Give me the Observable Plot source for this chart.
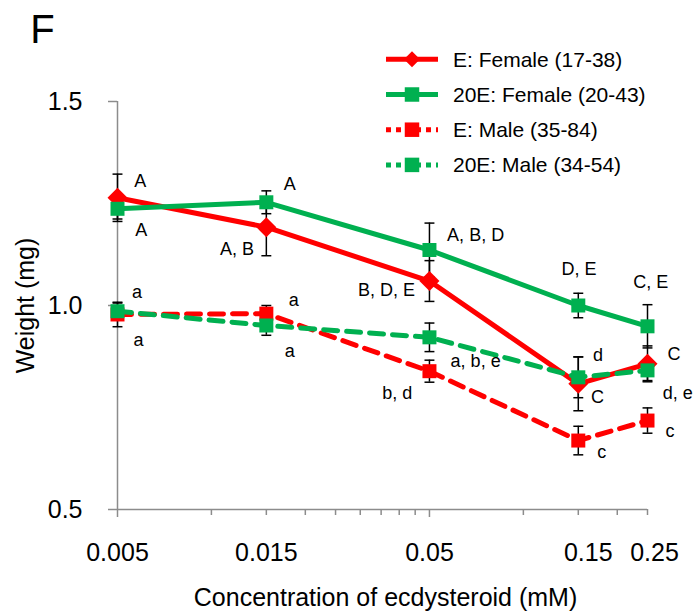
<!DOCTYPE html>
<html><head><meta charset="utf-8">
<script src="https://cdn.jsdelivr.net/npm/d3@7"></script>
<script src="https://cdn.jsdelivr.net/npm/@observablehq/plot@0.6"></script>
<style>body{margin:0;background:#fff}</style>
</head><body><div id="chart"></div>
<script>
// ---- data ----
const concentrations = [0.005, 0.015, 0.05, 0.15, 0.25];
const seriesNames = ["E: Female (17-38)", "20E: Female (20-43)", "E: Male (35-84)", "20E: Male (34-54)"];
const eFemale      = [1.264, 1.192, 1.060, 0.808, 0.857];
const eFemaleErr   = [0.058, 0.070, 0.050, 0.066, 0.044];
const e20Female    = [1.237, 1.253, 1.136, 1.000, 0.949];
const e20FemaleErr = [0.025, 0.028, 0.066, 0.030, 0.053];
const eMale        = [0.978, 0.980, 0.839, 0.669, 0.718];
const eMaleErr     = [0.030, 0.020, 0.027, 0.035, 0.031];
const e20Male      = [0.986, 0.951, 0.922, 0.824, 0.841];
const e20MaleErr   = [0.020, 0.024, 0.035, 0.050, 0.025];

const yTicks = [0.5, 1.0, 1.5];
const xMajorTicks = [0.005, 0.05];
const xMinorTicks = [0.01, 0.015, 0.02, 0.025, 0.03, 0.035, 0.04, 0.045, 0.1, 0.15, 0.2, 0.25];
const xTickLabels = [0.005, 0.015, 0.05, 0.15, 0.25];

// significance letters (text, concentration, weight)
const letterText = ["A", "A", "a", "a", "A", "A, B", "a", "a", "A, B, D", "B, D, E", "a, b, e", "b, d", "D, E", "C, E", "d", "C", "C", "d, e", "c", "c"];
const letterX    = [0.00591, 0.00596, 0.00577, 0.00584, 0.01782, 0.01208, 0.01836, 0.01782, 0.0703, 0.0364, 0.0703, 0.0394, 0.1508, 0.2562, 0.1736, 0.3042, 0.1728, 0.3127, 0.1784, 0.2954];
const letterY    = [1.304, 1.184, 1.033, 0.914, 1.296, 1.139, 1.012, 0.888, 1.173, 1.037, 0.864, 0.785, 1.090, 1.057, 0.878, 0.880, 0.776, 0.785, 0.641, 0.692];

const xTitle = "Concentration of ecdysteroid (mM)";
const yTitle = "Weight (mg)";
const panelLetter = "F";

// ---- styles ----
const RED = "#FF0000", GREEN = "#00B050", GRAY = "#8c8c8c";
const FONT = "'Liberation Sans', Arial, sans-serif";
const series = [
  {name: seriesNames[0], values: eFemale,   errs: eFemaleErr,   color: RED,   symbol: "diamond2", r: 9,   dashed: false},
  {name: seriesNames[1], values: e20Female, errs: e20FemaleErr, color: GREEN, symbol: "square",   r: 7.9, dashed: false},
  {name: seriesNames[2], values: eMale,     errs: eMaleErr,     color: RED,   symbol: "square",   r: 7.9, dashed: true},
  {name: seriesNames[3], values: e20Male,   errs: e20MaleErr,   color: GREEN, symbol: "square",   r: 7.9, dashed: true}
];
const rows = series.flatMap((s, i) => concentrations.map((c, j) => ({k: i, x: c, y: s.values[j], err: s.errs[j]})));
const letters = letterText.map((t, i) => ({t, x: letterX[i], y: letterY[i]}));
const capSymbol = {draw(ctx, size) { const w = Math.sqrt(size); ctx.moveTo(-w / 2, 0); ctx.lineTo(w / 2, 0); }};

const marks = [
  Plot.ruleY([0.5], {x1: 0.005, x2: 0.25, stroke: GRAY, strokeWidth: 1.5}),
  Plot.ruleX([0.005], {y1: 0.5, y2: 1.5, stroke: GRAY, strokeWidth: 1.5}),
  Plot.axisY({ticks: yTicks, tickFormat: d3.format(".1f"), tickSize: 9, tickPadding: 26, stroke: GRAY, strokeWidth: 1.5, fill: "black", fontSize: 25, label: null}),
  Plot.axisX({ticks: xMajorTicks, tickFormat: () => "", tickSize: 8, stroke: GRAY, strokeWidth: 1.5, label: null}),
  Plot.axisX({ticks: xMinorTicks, tickFormat: () => "", tickSize: 6, stroke: GRAY, strokeWidth: 1.5, label: null}),
  Plot.text(xTickLabels.filter(d => d < 0.1), {x: d => d, text: d => String(d), frameAnchor: "bottom", dy: 43, lineAnchor: "middle", textAnchor: "middle", fontSize: 25, fill: "black"}),
  Plot.text(xTickLabels.filter(d => d === 0.15), {x: d => d, text: d => String(d), frameAnchor: "bottom", dy: 43, dx: 10, lineAnchor: "middle", textAnchor: "middle", fontSize: 25, fill: "black"}),
  Plot.text(xTickLabels.filter(d => d === 0.25), {x: d => d, text: d => String(d), frameAnchor: "bottom", dy: 43, dx: 7, lineAnchor: "middle", textAnchor: "middle", fontSize: 25, fill: "black"}),
  // error bars
  Plot.ruleX(rows, {x: "x", y1: d => d.y - d.err, y2: d => d.y + d.err, stroke: "black", strokeWidth: 1.5}),
  Plot.dot(rows, {x: "x", y: d => d.y + d.err, symbol: capSymbol, r: 5.6, stroke: "black", strokeWidth: 1.5, fill: "none"}),
  Plot.dot(rows, {x: "x", y: d => d.y - d.err, symbol: capSymbol, r: 5.6, stroke: "black", strokeWidth: 1.5, fill: "none"}),
];
series.forEach((s, i) => {
  const data = rows.filter(d => d.k === i);
  marks.push(Plot.line(data, {x: "x", y: "y", stroke: s.color, strokeWidth: 5, strokeDasharray: s.dashed ? "14,9" : null, strokeLinecap: s.dashed ? "round" : "butt"}));
  marks.push(Plot.dot(data, {x: "x", y: "y", symbol: s.symbol, r: s.r, fill: s.color, stroke: "none"}));
});
marks.push(
  Plot.text(letters, {x: "x", y: "y", text: "t", fontSize: 18, fill: "black", textAnchor: "middle", lineAnchor: "middle"}),
  Plot.text([yTitle], {frameAnchor: "left", dx: -92, rotate: -90, fontSize: 25, fill: "black", textAnchor: "middle", lineAnchor: "middle"}),
  Plot.text([xTitle], {frameAnchor: "bottom", dx: 3, dy: 88, fontSize: 25, fill: "black", textAnchor: "middle", lineAnchor: "middle"}),
  Plot.text([panelLetter], {frameAnchor: "top-left", dx: -75, dy: -71, fontSize: 40, fill: "black", textAnchor: "middle", lineAnchor: "middle"})
);

const chart = Plot.plot({
  width: 693, height: 613,
  marginLeft: 117, marginRight: 46, marginTop: 101, marginBottom: 104,
  style: {fontFamily: FONT, background: "white", overflow: "visible"},
  x: {type: "log", domain: [0.005, 0.25]},
  y: {domain: [0.5, 1.5]},
  marks
});

// legend inside the plot area (top right)
const svg = d3.select(chart);
const lg = svg.append("g").attr("font-family", FONT).attr("text-anchor", "start");
series.forEach((s, i) => {
  const cy = 59.3 + i * 35.2;
  lg.append("line").attr("x1", 386).attr("x2", 438).attr("y1", cy).attr("y2", cy)
    .attr("stroke", s.color).attr("stroke-width", 5)
    .attr("stroke-dasharray", s.dashed ? "5,5" : null);
  const sym = s.symbol === "diamond2" ? d3.symbolDiamond2 : d3.symbolSquare;
  const size = s.symbol === "diamond2" ? 165 : 210;
  lg.append("path").attr("d", d3.symbol(sym, size)()).attr("transform", `translate(412,${cy})`).attr("fill", s.color);
  lg.append("text").attr("x", 453).attr("y", cy).attr("dy", "0.35em").attr("text-anchor", "start")
    .attr("font-size", 21).attr("fill", "black").text(s.name);
});

document.getElementById("chart").appendChild(chart);
</script>
</body></html>
